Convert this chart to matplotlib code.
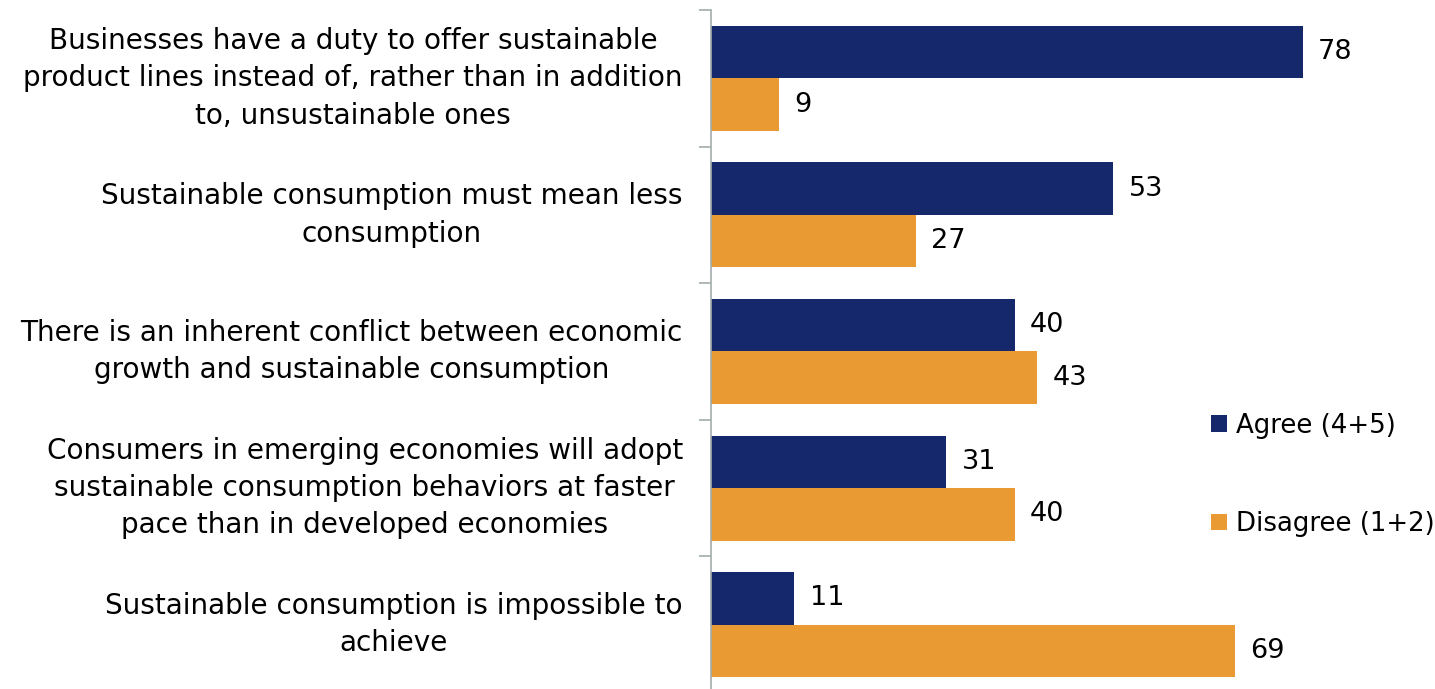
import numpy as np
import matplotlib.pyplot as plt

# Survey statements and agree/disagree shares (%)
statements = [
    "Businesses have a duty to offer sustainable\nproduct lines instead of, rather than in addition\nto, unsustainable ones",
    "Sustainable consumption must mean less\nconsumption",
    "There is an inherent conflict between economic\ngrowth and sustainable consumption",
    "Consumers in emerging economies will adopt\nsustainable consumption behaviors at faster\npace than in developed economies",
    "Sustainable consumption is impossible to\nachieve",
]
agree = [78, 53, 40, 31, 11]
disagree = [9, 27, 43, 40, 69]
series_names = ["Agree (4+5)", "Disagree (1+2)"]

navy = "#14286B"
orange = "#E99A33"

plt.rcParams['font.family'] = ['DejaVu Sans']

fig = plt.figure(figsize=(14.35, 6.89), dpi=100)
# axes sits from x=711px to right edge, y from 10px to ~693px
ax = fig.add_axes([711/1435, (689-693)/689, 1 - 711/1435, 683/689])

y = np.arange(len(statements))
h = 0.385
b1 = ax.barh(y - h/2, agree, height=h, color=navy, label=series_names[0])
b2 = ax.barh(y + h/2, disagree, height=h, color=orange, label=series_names[1])

for bars, vals in [(b1, agree), (b2, disagree)]:
    for bar, v in zip(bars, vals):
        ax.text(v + 2.0, bar.get_y() + bar.get_height()/2, str(v),
                va="center", ha="left", fontsize=19.5)

ax.set_xlim(0, 724/7.59)
ax.set_ylim(len(statements) - 0.5, -0.5)

ax.set_yticks(y)
ax.set_yticklabels([])
ax.tick_params(axis="y", which="major", length=0)
ax.set_yticks(np.arange(-0.5, len(statements), 1), minor=True)
ax.tick_params(axis="y", which="minor", length=9, width=1.2, color="#A3ABAB")
ax.set_xticks([])

for i, s in enumerate(statements):
    ax.text(-0.039, i, s, transform=ax.get_yaxis_transform(), ha="right",
            va="center", multialignment="center", fontsize=20.1, linespacing=1.42)

for side in ["top", "right", "bottom"]:
    ax.spines[side].set_visible(False)
ax.spines["left"].set_color("#A3ABAB")
ax.spines["left"].set_linewidth(1.2)

fig.legend(handles=[b1, b2], loc="center left", bbox_to_anchor=(1188/1435, 1 - 475/689),
           frameon=False, fontsize=18.7, handlelength=0.6, handleheight=0.6,
           handletextpad=0.35, labelspacing=2.8)

fig.savefig("out.png", dpi=100)
